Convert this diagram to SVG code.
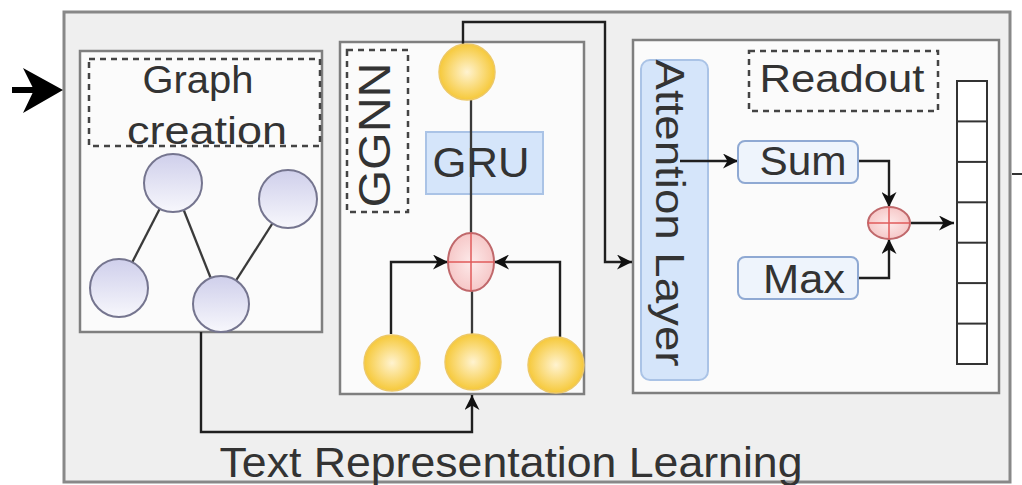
<svg xmlns="http://www.w3.org/2000/svg" width="1022" height="485" viewBox="0 0 1022 485">
  <defs>
    <linearGradient id="lav" x1="0" y1="0" x2="0" y2="1">
      <stop offset="0" stop-color="#cfcfeb"/>
      <stop offset="1" stop-color="#f7f7fc"/>
    </linearGradient>
    <radialGradient id="sun" cx="0.5" cy="0.5" r="0.5">
      <stop offset="0" stop-color="#fff3d0"/>
      <stop offset="1" stop-color="#f6c93a"/>
    </radialGradient>
    <radialGradient id="rose" cx="0.5" cy="0.5" r="0.5">
      <stop offset="0" stop-color="#fdeaea"/>
      <stop offset="1" stop-color="#f6c8c8"/>
    </radialGradient>
    <marker id="arr" viewBox="0 0 10 10" refX="10" refY="5" markerWidth="15" markerHeight="15" markerUnits="userSpaceOnUse" orient="auto">
      <path d="M0,0 L10,5 L0,10 L3,5 z" fill="#111"/>
    </marker>
    <style>
      .frame { fill: #fbfbfb; stroke: #7f7f7f; stroke-width: 2.5; }
      .dash { fill: none; stroke: #444; stroke-width: 2.5; stroke-dasharray: 6 5; }
      .lbl { font-family: "Liberation Sans", Arial, sans-serif; fill: #333; }
      .blue { fill: #d5e5fa; stroke: #aac3e6; stroke-width: 2; }
      .pill { fill: #eef4fc; stroke: #8fa9d3; stroke-width: 2; }
      .gnode { fill: url(#lav); stroke: #75758f; stroke-width: 2; }
      .ynode { fill: url(#sun); stroke: #edc866; stroke-width: 1.5; }
      .op { fill: url(#rose); stroke: #c0686b; stroke-width: 2; }
      .cross { stroke: #e05a5a; stroke-width: 1.5; }
      .edge { fill: none; stroke: #3a3a3a; stroke-width: 2.3; }
      .wirea { fill: none; stroke: #1f1f1f; stroke-width: 2.4; marker-end: url(#arr); }
    </style>
  </defs>

  <rect width="1022" height="485" fill="#ffffff"/>

  <!-- outer container: text representation learning -->
  <g id="text-representation-learning">
    <rect x="64" y="12" width="946" height="470" fill="#efefef" stroke="#888" stroke-width="3"/>
    <text class="lbl" x="511" y="477" font-size="43" text-anchor="middle" textLength="583" lengthAdjust="spacingAndGlyphs">Text Representation Learning</text>
  </g>

  <!-- graph creation panel -->
  <g id="graph-creation">
    <rect class="frame" x="80" y="51" width="242" height="281"/>
    <rect class="dash" x="89" y="59" width="231" height="87"/>
    <text class="lbl" x="198" y="93" font-size="38" text-anchor="middle" textLength="111" lengthAdjust="spacingAndGlyphs">Graph</text>
    <text class="lbl" x="207" y="144" font-size="38" text-anchor="middle" textLength="160" lengthAdjust="spacingAndGlyphs">creation</text>
    <line class="edge" x1="173" y1="183" x2="119" y2="288"/>
    <line class="edge" x1="173" y1="183" x2="221" y2="304"/>
    <line class="edge" x1="288" y1="199" x2="221" y2="304"/>
    <circle class="gnode" cx="173" cy="183" r="29"/>
    <circle class="gnode" cx="288" cy="199" r="29"/>
    <circle class="gnode" cx="119" cy="288" r="29"/>
    <circle class="gnode" cx="221" cy="304" r="28"/>
  </g>

  <!-- GGNN panel -->
  <g id="ggnn">
    <rect class="frame" x="340" y="42" width="244" height="352" fill="#fefefe"/>
    <rect class="dash" x="347" y="50" width="61" height="162"/>
    <text class="lbl" transform="translate(390,135) rotate(-90)" font-size="44" text-anchor="middle" textLength="145" lengthAdjust="spacingAndGlyphs">GGNN</text>
  </g>
  <g id="gru">
    <rect class="blue" x="426" y="132" width="117" height="62"/>
    <text class="lbl" x="481" y="177" font-size="42" text-anchor="middle" textLength="97" lengthAdjust="spacingAndGlyphs">GRU</text>
  </g>

  <!-- readout panel -->
  <g id="readout-panel">
    <rect class="frame" x="633" y="40" width="366" height="353"/>
    <rect class="dash" x="749" y="51" width="189" height="60"/>
    <text class="lbl" x="842" y="92" font-size="38" text-anchor="middle" textLength="165" lengthAdjust="spacingAndGlyphs">Readout</text>
  </g>
  <g id="attention-layer">
    <rect class="blue" x="641" y="60" width="67" height="320" rx="9"/>
    <text class="lbl" transform="translate(656,213) rotate(90)" font-size="41" text-anchor="middle" textLength="307" lengthAdjust="spacingAndGlyphs">Attention Layer</text>
  </g>

  <!-- connectors -->
  <g id="connectors">
    <line x1="12" y1="90" x2="40" y2="90" stroke="#000" stroke-width="6"/>
    <path d="M63,90 L23,68 L34,90 L23,113 Z" fill="#000"/>
    <path class="wirea" d="M201,332 V432 H472 V395"/>
    <path class="wirea" d="M463,44 V22 H605 V262 H632"/>
    <line class="edge" x1="471" y1="100" x2="471" y2="233"/>
    <path class="wirea" d="M391,334 V262 H448"/>
    <path class="wirea" d="M560,337 V262 H494"/>
    <line class="edge" x1="472" y1="334" x2="472" y2="291"/>
    <path class="wirea" d="M680,161 H738"/>
    <path class="wirea" d="M858,161 H889 V207"/>
    <path class="wirea" d="M858,278 H889 V239"/>
    <path class="wirea" d="M911,223 H954"/>
    <line x1="1012" y1="174" x2="1022" y2="174" stroke="#333" stroke-width="2"/>
  </g>

  <!-- GGNN hidden-state nodes -->
  <g id="h-out"><circle class="ynode" cx="467" cy="72" r="28"/></g>
  <g id="h-left"><circle class="ynode" cx="392" cy="363" r="28"/></g>
  <g id="h-mid"><circle class="ynode" cx="473" cy="362" r="28"/></g>
  <g id="h-right"><circle class="ynode" cx="556" cy="365" r="28"/></g>

  <g id="agg-ggnn">
    <ellipse class="op" cx="471" cy="262" rx="23" ry="29"/>
    <line class="cross" x1="448" y1="262" x2="494" y2="262"/>
    <line class="cross" x1="471" y1="233" x2="471" y2="291"/>
  </g>

  <g id="sum">
    <rect class="pill" x="738" y="141" width="120" height="42" rx="7"/>
    <text class="lbl" x="803" y="175" font-size="40" text-anchor="middle" textLength="87" lengthAdjust="spacingAndGlyphs">Sum</text>
  </g>
  <g id="max">
    <rect class="pill" x="738" y="257" width="120" height="42" rx="7"/>
    <text class="lbl" x="804" y="293" font-size="41" text-anchor="middle" textLength="82" lengthAdjust="spacingAndGlyphs">Max</text>
  </g>

  <g id="agg-readout">
    <ellipse class="op" cx="889" cy="223" rx="21" ry="16"/>
    <line class="cross" x1="868" y1="223" x2="910" y2="223"/>
    <line class="cross" x1="889" y1="207" x2="889" y2="239"/>
  </g>

  <!-- graph embedding vector -->
  <g id="vector" fill="none" stroke="#333" stroke-width="2">
    <rect x="957" y="81" width="30" height="283" fill="#ffffff"/>
    <line x1="957" y1="121.4" x2="987" y2="121.4"/>
    <line x1="957" y1="161.9" x2="987" y2="161.9"/>
    <line x1="957" y1="202.3" x2="987" y2="202.3"/>
    <line x1="957" y1="242.7" x2="987" y2="242.7"/>
    <line x1="957" y1="283.1" x2="987" y2="283.1"/>
    <line x1="957" y1="323.6" x2="987" y2="323.6"/>
  </g>
</svg>
